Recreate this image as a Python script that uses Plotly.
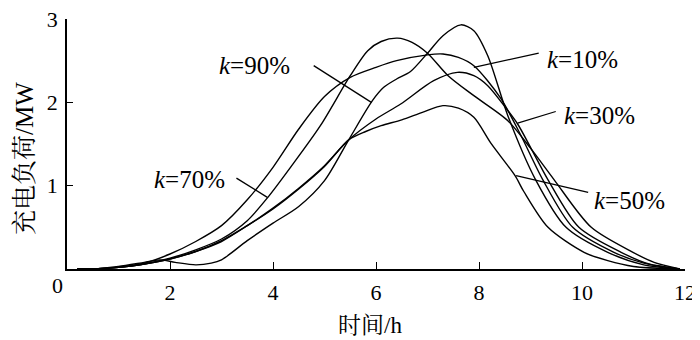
import plotly.graph_objects as go

# ---- data ----
x_k10 = [0.2, 0.6, 1.0, 1.5, 2.0, 2.5, 3.0, 3.5, 4.0, 4.5, 5.0, 5.5, 6.0, 6.4, 7.0, 7.3, 7.6, 7.9, 8.42, 8.8, 9.24, 9.82, 10.62, 11.2, 11.9]
y_k10 = [0.0, 0.005, 0.02, 0.07, 0.18, 0.33, 0.52, 0.83, 1.22, 1.68, 2.07, 2.3, 2.42, 2.5, 2.57, 2.58, 2.54, 2.44, 2.05, 1.62, 1.07, 0.5, 0.2, 0.07, 0.0]

x_k30 = [0.2, 0.6, 1.0, 1.5, 2.0, 2.5, 3.0, 3.5, 4.0, 4.5, 5.0, 5.47, 6.0, 6.48, 7.12, 7.58, 7.9, 8.17, 8.5, 8.75, 9.0, 9.34, 9.94, 10.76, 11.3, 11.9]
y_k30 = [0.0, 0.005, 0.02, 0.06, 0.12, 0.21, 0.33, 0.52, 0.73, 0.97, 1.24, 1.55, 1.8, 1.98, 2.26, 2.36, 2.32, 2.2, 1.95, 1.74, 1.46, 1.07, 0.5, 0.2, 0.06, 0.0]

x_k50 = [0.2, 0.6, 1.0, 1.5, 2.0, 2.5, 3.0, 3.5, 4.0, 4.5, 5.0, 5.47, 5.8, 6.1, 6.5, 6.9, 7.3, 7.6, 7.9, 8.23, 8.7, 8.87, 9.34, 10.04, 10.5, 11.0, 11.8]
y_k50 = [0.0, 0.005, 0.02, 0.06, 0.12, 0.21, 0.34, 0.52, 0.72, 0.96, 1.23, 1.55, 1.65, 1.72, 1.79, 1.88, 1.96, 1.93, 1.82, 1.51, 1.12, 0.93, 0.5, 0.2, 0.1, 0.03, 0.0]

x_k70 = [0.2, 0.6, 1.0, 1.5, 2.0, 2.5, 3.0, 3.5, 3.9, 4.34, 4.92, 5.5, 5.84, 6.1, 6.42, 6.7, 7.0, 7.4, 7.9, 8.56, 9.0, 9.46, 10.18, 10.99, 11.4, 11.9]
y_k70 = [0.0, 0.005, 0.02, 0.06, 0.13, 0.23, 0.36, 0.58, 0.86, 1.22, 1.72, 2.32, 2.62, 2.73, 2.77, 2.72, 2.59, 2.32, 2.08, 1.78, 1.45, 1.07, 0.5, 0.2, 0.08, 0.0]

x_k90 = [0.2, 0.6, 1.0, 1.5, 1.8, 2.1, 2.5, 2.8, 3.0, 3.5, 4.0, 4.5, 5.0, 5.47, 5.93, 6.15, 6.4, 6.67, 7.0, 7.3, 7.65, 7.9, 8.17, 8.56, 9.1, 9.69, 10.5, 11.2, 11.9]
y_k90 = [0.0, 0.005, 0.03, 0.08, 0.11, 0.08, 0.05, 0.07, 0.11, 0.34, 0.55, 0.75, 1.06, 1.55, 2.02, 2.18, 2.28, 2.37, 2.59, 2.8, 2.93, 2.86, 2.56, 1.84, 1.07, 0.5, 0.2, 0.05, 0.0]

series_names = ["k=10%", "k=30%", "k=50%", "k=70%", "k=90%"]
x_ticks = [2, 4, 6, 8, 10, 12]
y_ticks = [1, 2, 3]

SERIF = "Liberation Serif"
CJK = "Liberation Serif, Noto Serif CJK SC"

# page body has an 8px margin: figure is 692x332 so it fits the 700x340 window
W, H = 692, 332
ML, MT = 59, 11
MR, MB = 15, 71

fig = go.Figure()
for name, xs, ys in zip(series_names,
                        [x_k10, x_k30, x_k50, x_k70, x_k90],
                        [y_k10, y_k30, y_k50, y_k70, y_k90]):
    fig.add_trace(go.Scatter(x=xs, y=ys, mode="lines", name=name,
                             line=dict(color="black", width=1.4, shape="spline", smoothing=0.8),
                             showlegend=False, hoverinfo="skip"))

# label leader lines (data coordinates)
leaders = [
    (4.79, 2.44, 5.91, 2.00),   # k=90%
    (3.29, 1.09, 3.89, 0.86),   # k=70%
    (9.16, 2.59, 7.90, 2.42),   # k=10%
    (9.49, 1.89, 8.75, 1.75),   # k=30%
    (10.12, 0.92, 8.72, 1.12),  # k=50%
]
for x0, y0, x1, y1 in leaders:
    fig.add_shape(type="line", xref="x", yref="y", x0=x0, y0=y0, x1=x1, y1=y1,
                  line=dict(color="black", width=1.3))

labels = [
    ("<i>k</i>=90%", 2.92, 2.44),
    ("<i>k</i>=70%", 1.65, 1.08),
    ("<i>k</i>=10%", 9.28, 2.52),
    ("<i>k</i>=30%", 9.61, 1.84),
    ("<i>k</i>=50%", 10.19, 0.82),
]
for txt, lx, ly in labels:
    fig.add_annotation(x=lx, y=ly, xref="x", yref="y", text=txt, showarrow=False,
                       xanchor="left", yanchor="middle",
                       font=dict(family=SERIF, size=25, color="black"))

# origin label "0"
fig.add_annotation(x=0, y=0, xref="x", yref="y", text="0", showarrow=False,
                   xanchor="right", yanchor="top", xshift=-2, yshift=-2,
                   font=dict(family=SERIF, size=22, color="black"))

plot_w, plot_h = W - ML - MR, H - MT - MB
# axis titles (page pixel targets converted to paper coords)
fig.add_annotation(x=(370 - 67) / plot_w, y=-(325 - 269) / plot_h, xref="paper", yref="paper",
                   text="时间/h", showarrow=False, xanchor="center", yanchor="middle",
                   font=dict(family=CJK, size=23, color="black"))
fig.add_annotation(x=-(67 - 24) / plot_w, y=(269 - 158) / plot_h, xref="paper", yref="paper",
                   text="充电负荷/MW", showarrow=False, textangle=-90,
                   xanchor="center", yanchor="middle",
                   font=dict(family=CJK, size=25, color="black"))

fig.update_layout(
    width=W, height=H,
    margin=dict(l=ML, r=MR, t=MT, b=MB, autoexpand=False),
    paper_bgcolor="white", plot_bgcolor="white",
    font=dict(family=SERIF, size=22, color="black"),
    xaxis=dict(range=[0, 12], tickvals=x_ticks, ticktext=[str(v) for v in x_ticks],
               ticks="inside", ticklen=7, tickwidth=1.3, tickcolor="black",
               showline=True, linecolor="black", linewidth=1.5, automargin=False,
               showgrid=False, zeroline=False, ticklabelstandoff=3,
               ticklabeloverflow="allow", tickfont=dict(family=SERIF, size=22)),
    yaxis=dict(range=[0, 3], tickvals=y_ticks, ticktext=[str(v) for v in y_ticks],
               ticks="inside", ticklen=6, tickwidth=1.3, tickcolor="black",
               showline=True, linecolor="black", linewidth=1.5, automargin=False,
               showgrid=False, zeroline=False, ticklabelstandoff=3,
               ticklabeloverflow="allow", tickfont=dict(family=SERIF, size=22)),
)

fig.write_html("out.html")
